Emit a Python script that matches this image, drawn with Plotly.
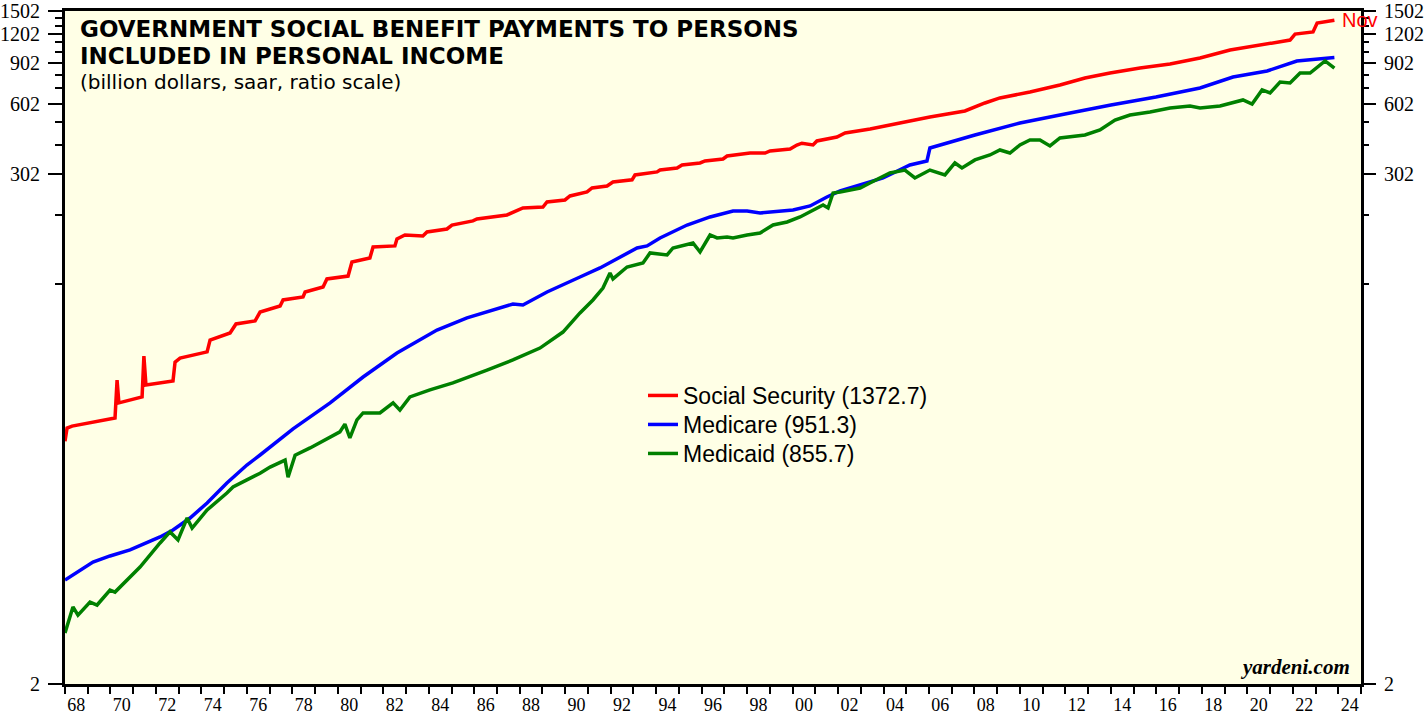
import math
import plotly.graph_objects as go

# ---------------- data (decimal year, billion $) ----------------
ss_dates = [1968.00,1968.09,1968.31,1970.20,1970.29,1970.37,1971.39,1971.47,1971.56,1972.75,1972.84,1973.06,
            1974.25,1974.38,1975.26,1975.52,1976.36,1976.58,1977.46,
            1977.59,1978.47,1978.56,1979.35,1979.52,1980.45,1980.62,1981.41,1981.55,1982.51,1982.60,1982.95,
            1983.74,1983.92,1984.80,1985.02,1985.94,1986.12,1987.44,1988.14,1989.02,1989.20,1989.99,1990.21,
            1990.96,1991.18,1991.84,1992.10,1992.94,1993.07,1994.04,1994.17,1994.92,1995.14,1995.93,1996.15,
            1996.94,1997.12,1998.13,1998.79,1999.01,1999.89,2000.19,2000.41,2000.90,2001.07,2001.95,
            2002.31,2003.41,2004.72,2006.04,2007.58,2008.46,2009.12,
            2010.44,2011.76,2012.86,2013.96,2015.28,2016.60,2017.92,2019.24,2020.56,2021.88,2022.10,2022.89,
            2023.07,2023.83]
ss_values = [21.8,24.8,25.3,27.4,39.8,31.8,33.7,50.4,37.9,39.4,47.5,49.4,
             52.5,59.0,63.2,69.1,71.2,77.7,82.5,
             87.5,90.1,94.6,99.4,107.6,110.7,127.1,132.3,147.4,148.9,159.4,165.8,
             164.2,170.8,175.9,182.9,190.5,194.0,201.9,216.3,218.4,229.5,234.0,243.4,
             253.2,263.3,268.6,279.3,285.2,299.2,308.3,314.1,320.5,330.2,336.7,343.6,
             350.3,360.7,371.4,371.4,378.9,386.5,401.9,409.0,401.9,418.1,434.7,
             452.4,470.5,499.2,529.4,561.7,607.7,638.5,
             676.9,725.0,777.2,816.1,857.6,891.9,946.2,1023.5,1074,1128,1197,1222,
             1335,1372.7]

mc_dates = [1968.00,1969.23,1969.98,1970.86,1972.18,1972.75,1973.50,1974.25,1975.12,1976.00,1976.58,1978.03,
            1979.66,1981.11,1982.60,1984.36,1985.68,1987.70,1988.14,1989.20,1990.65,1991.53,1993.16,1993.60,
            1994.17,1995.36,1996.37,1997.38,1998.00,1998.57,2000.02,2000.77,2001.51,2002.09,2003.98,2005.16,
            2005.91,2006.04,2008.02,2010.00,2011.98,2013.08,2014.00,2015.98,2017.92,2019.37,2020.25,2020.87,
            2022.18,2023.06,2023.83]
mc_values = [5.56,6.64,7.05,7.48,8.50,9.10,10.24,11.87,14.45,17.25,19.03,24.6,
             31.8,41.0,51.9,65.1,73.3,84.1,83.3,94.6,109.7,119.9,145.9,148.9,
             161.0,182.9,198.0,210.0,210.0,205.9,212.1,220.6,241.0,255.6,290.5,330.2,
             343.6,390.2,443.6,499.2,545.3,573.4,596.0,644.6,704.5,784.6,808.4,832.4,
             918.5,937.0,951.3]

md_dates = [1968.00,1968.35,1968.57,1969.10,1969.41,1969.98,1970.20,1971.30,1972.18,1972.62,1972.97,1973.37,
            1973.59,1974.25,1975.12,1975.39,1976.00,1976.58,1977.02,1977.68,1977.81,1978.12,1978.78,1979.43,
            1980.09,1980.31,1980.53,1980.84,1981.11,1981.85,1982.43,1982.73,1983.17,1984.05,1985.06,1986.56,
            1987.70,1988.89,1989.90,1990.65,1991.22,1991.66,1991.97,1992.10,1992.72,1993.42,1993.73,1994.48,
            1994.74,1995.62,1995.93,1996.37,1996.68,1997.12,1997.38,1998.00,1998.57,1999.14,1999.76,2000.33,
            2000.90,2001.34,2001.56,2001.78,2002.09,2002.53,2002.97,2003.40,2003.84,2004.28,2004.94,2005.38,
            2006.04,2006.70,2007.14,2007.45,2008.02,2008.68,2009.12,2009.56,2010.00,2010.44,2010.88,2011.32,
            2011.76,2012.20,2012.86,2013.52,2014.18,2014.84,2015.72,2016.60,2017.48,2017.92,2018.80,2019.81,
            2020.21,2020.65,2021.00,2021.44,2021.88,2022.32,2022.76,2023.42,2023.83]
md_values = [3.30,4.27,3.94,4.48,4.35,5.04,4.94,6.32,8.01,8.93,8.25,10.24,
             9.28,11.08,13.1,13.9,14.9,15.9,16.9,18.1,15.3,19.0,20.4,22.1,
             23.9,25.8,22.5,26.9,28.8,28.8,31.8,29.6,33.7,36.1,38.7,43.9,
             48.5,54.5,63.8,77.0,87.5,98.4,114.1,107.6,121.0,125.9,138.9,136.2,
             145.9,153.3,140.3,165.8,161.0,162.6,161.0,165.8,169.1,182.9,188.4,198.0,
             212.1,222.7,216.3,250.7,253.2,258.2,263.3,276.5,290.5,305.1,314.1,290.5,
             314.1,299.2,336.7,320.5,346.9,364.3,382.6,371.4,401.9,422.2,422.2,398.0,
             430.6,434.7,443.6,466.0,514.1,540.0,556.1,578.6,590.1,578.6,590.1,626.1,
             601.7,690.6,670.4,747.0,739.6,816.1,816.1,918.5,855.7]

series_names = ["Social Security (1372.7)", "Medicare (951.3)", "Medicaid (855.7)"]
series_colors = ["#FF0000", "#0000FF", "#008000"]

y_major = [2, 302, 602, 902, 1202, 1502]
y_minor = [102, 202, 402, 502, 702, 802, 1002, 1102, 1302, 1402]
year_start, year_end = 1968, 2025
x_label_years = list(range(1968, 2025, 2))
x_labels = [f"{y % 100:02d}" for y in x_label_years]

assert len(ss_dates) == len(ss_values)
assert len(mc_dates) == len(mc_values)
assert len(md_dates) == len(md_values)

# ---------------- figure ----------------
FIG_W, FIG_H = 1428, 717
PLOT_L, PLOT_R, PLOT_T, PLOT_B = 65, 1361, 11, 684   # plot box in window pixels
PW, PH = PLOT_R - PLOT_L, PLOT_B - PLOT_T


def px(xw):
    return (xw - PLOT_L) / PW


def py(yw):
    return (PLOT_B - yw) / PH


fig = go.Figure()
legend_ids = ["legend", "legend2", "legend3"]
for xs, ys, name, col, lg in [(ss_dates, ss_values, series_names[0], series_colors[0], legend_ids[0]),
                              (mc_dates, mc_values, series_names[1], series_colors[1], legend_ids[1]),
                              (md_dates, md_values, series_names[2], series_colors[2], legend_ids[2])]:
    fig.add_trace(go.Scatter(x=xs, y=ys, mode="lines", name=name, legend=lg,
                             line=dict(color=col, width=3.5), hoverinfo="skip"))

# invisible trace to activate the right-hand axis
fig.add_trace(go.Scatter(x=ss_dates, y=ss_values, yaxis="y2", mode="lines",
                         line=dict(color="rgba(0,0,0,0)", width=0),
                         showlegend=False, hoverinfo="skip"))

yrange = [math.log10(y_major[0]), math.log10(y_major[-1])]
tickfont = dict(family="Liberation Serif", size=20, color="black")

yaxis_common = dict(
    type="log", range=yrange, tickmode="array", tickvals=y_major,
    ticktext=[str(v) for v in y_major], ticks="outside", ticklen=14, tickwidth=2,
    tickcolor="black", tickfont=tickfont, showgrid=False, zeroline=False,
    automargin=False, ticklabelstandoff=4,
    minor=dict(tickmode="array", tickvals=y_minor, ticks="outside", ticklen=7,
               tickwidth=2, tickcolor="black", showgrid=False),
)

legend_font = dict(family="Liberation Sans", size=23, color="black")
legend_common = dict(x=px(643), xanchor="left", yanchor="top",
                     bgcolor="rgba(0,0,0,0)", borderwidth=0, font=legend_font)

fig.update_layout(
    width=FIG_W, height=FIG_H,
    margin=dict(l=PLOT_L, r=FIG_W - PLOT_R, t=PLOT_T, b=FIG_H - PLOT_B),
    paper_bgcolor="white", plot_bgcolor="#FFFFE6",
    xaxis=dict(range=[year_start, year_end], tickmode="array",
               tickvals=[y + 0.5 for y in x_label_years], ticktext=x_labels,
               ticks="outside", ticklen=2, tickcolor="rgba(0,0,0,0)",
               tickfont=dict(family="Liberation Serif", size=18, color="black"),
               showline=True, linewidth=3, linecolor="black",
               mirror=True, showgrid=False, zeroline=False, automargin=False,
               minor=dict(tick0=year_start, dtick=1, ticks="outside", ticklen=7,
                          tickwidth=2, tickcolor="black", showgrid=False)),
    yaxis=dict(**yaxis_common, side="left", showline=True, linewidth=3,
               linecolor="black", mirror=True),
    yaxis2=dict(**yaxis_common, side="right", overlaying="y", showline=False),
    showlegend=True,
    legend=dict(**legend_common, y=py(374)),
    legend2=dict(**legend_common, y=py(403)),
    legend3=dict(**legend_common, y=py(432)),
)

title_font = dict(family="DejaVu Sans", size=23, color="black")
fig.add_annotation(text="<b>GOVERNMENT SOCIAL BENEFIT PAYMENTS TO PERSONS</b>",
                   xref="paper", yref="paper", x=px(78), y=py(29),
                   xanchor="left", yanchor="middle", showarrow=False, font=title_font)
fig.add_annotation(text="<b>INCLUDED IN PERSONAL INCOME</b>",
                   xref="paper", yref="paper", x=px(78), y=py(56),
                   xanchor="left", yanchor="middle", showarrow=False, font=title_font)
fig.add_annotation(text="(billion dollars, saar, ratio scale)",
                   xref="paper", yref="paper", x=px(78), y=py(82),
                   xanchor="left", yanchor="middle", showarrow=False,
                   font=dict(family="DejaVu Sans", size=20, color="black"))
fig.add_annotation(text="<b><i>yardeni.com</i></b>",
                   xref="paper", yref="paper", x=px(1352), y=py(667),
                   xanchor="right", yanchor="middle", showarrow=False,
                   font=dict(family="Liberation Serif", size=21, color="black"))
fig.add_annotation(text="Nov", x=ss_dates[-1], y=math.log10(ss_values[-1]),
                   xref="x", yref="y", xanchor="left", yanchor="middle",
                   xshift=6, showarrow=False,
                   font=dict(family="Liberation Sans", size=20, color="#FF0000"))

# remove the browser's default 8px page margin so the figure sits at (0, 0)
fig.write_html("out.html", config={"displayModeBar": False},
               post_script="document.body.style.margin='0';document.body.style.overflow='hidden';")
